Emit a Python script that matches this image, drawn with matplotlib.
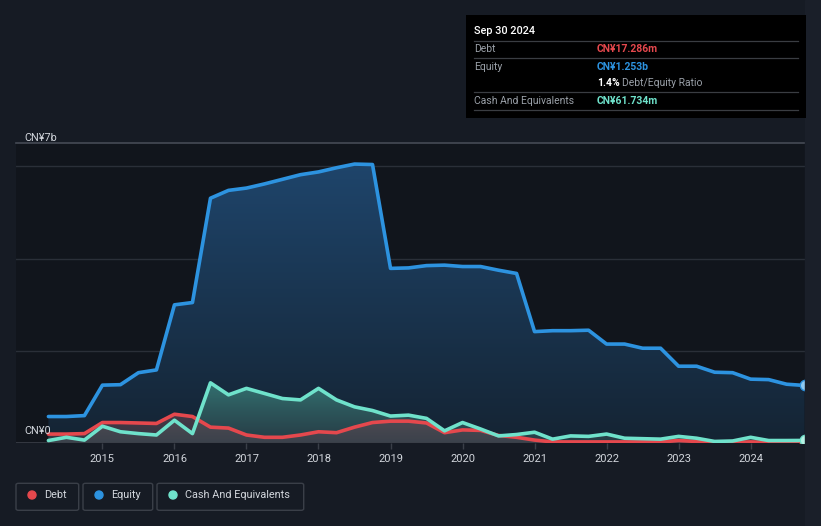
import matplotlib
matplotlib.use("Agg")
import matplotlib.pyplot as plt
import numpy as np
from matplotlib.patches import FancyBboxPatch, Rectangle
from matplotlib.lines import Line2D

plt.rcParams['font.family'] = ['Roboto', 'DejaVu Sans']

# ---- data (CN¥ billions), quarterly from Mar 2014 to Sep 2024 ----
dates = [2014.25 + 0.25 * i for i in range(43)]
equity = [0.58, 0.58, 0.60, 1.26, 1.27, 1.53, 1.59, 3.00, 3.05, 5.31,
          5.48, 5.53, 5.62, 5.72, 5.82, 5.88, 5.97, 6.05, 6.04, 3.79,
          3.80, 3.85, 3.86, 3.83, 3.83, 3.75, 3.68, 2.42, 2.44, 2.44,
          2.45, 2.15, 2.15, 2.06, 2.06, 1.67, 1.67, 1.54, 1.53, 1.39,
          1.38, 1.28, 1.253]
debt = [0.20, 0.20, 0.21, 0.45, 0.45, 0.44, 0.43, 0.63, 0.58, 0.35,
        0.33, 0.18, 0.13, 0.13, 0.18, 0.25, 0.23, 0.35, 0.45, 0.48,
        0.48, 0.44, 0.23, 0.29, 0.28, 0.17, 0.13, 0.07, 0.03, 0.03,
        0.03, 0.03, 0.03, 0.03, 0.03, 0.06, 0.04, 0.02, 0.02, 0.03,
        0.02, 0.02, 0.017]
cash = [0.06, 0.13, 0.07, 0.37, 0.25, 0.21, 0.18, 0.50, 0.21, 1.31,
        1.05, 1.19, 1.08, 0.97, 0.94, 1.19, 0.94, 0.79, 0.71, 0.59,
        0.61, 0.54, 0.27, 0.45, 0.31, 0.16, 0.19, 0.24, 0.09, 0.16,
        0.15, 0.20, 0.11, 0.10, 0.09, 0.15, 0.11, 0.04, 0.05, 0.13,
        0.06, 0.06, 0.062]
years = list(range(2015, 2025))
year_labels = [str(y) for y in years]

tip_date = "Sep 30 2024"
tip_debt = "CN¥17.286m"
tip_equity = "CN¥1.253b"
tip_ratio = "1.4%"
tip_cash = "CN¥61.734m"

C_DEBT = '#e5484d'
C_EQ = '#2d93e0'
C_CASH = '#6fe2cb'
BG = '#161b24'
TXT = '#d2d6dc'

W, H = 821, 526
fig = plt.figure(figsize=(W / 100, H / 100), dpi=100, facecolor=BG)

# right-side lighter strip
fig.patches.append(Rectangle((805 / W, 0), 1 - 805 / W, 1, transform=fig.transFigure,
                             color='#1a1f29', zorder=0))

ax_l, ax_r, ax_b, ax_t = 16, 805, 443.3, 143.3
ax = fig.add_axes([ax_l / W, 1 - ax_b / H, (ax_r - ax_l) / W, (ax_b - ax_t) / H])
ax.set_facecolor('#11151c')
ax.set_xlim(2013.80, 2024.755)
ax.set_ylim(0, 6.5)
for s in ax.spines.values():
    s.set_visible(False)

x = np.array(dates)

def grad_fill(xs, ys, base, c_top, c_bot, z):
    poly = ax.fill_between(xs, ys, base, color='none', lw=0, zorder=z)
    path = poly.get_paths()[0]
    ct = np.array(matplotlib.colors.to_rgba(c_top))
    cb = np.array(matplotlib.colors.to_rgba(c_bot))
    n = 256
    t = np.linspace(0, 1, n)[:, None]
    img = (ct * (1 - t) + cb * t)[:, None, :]
    top = max(ys)
    im = ax.imshow(img, extent=[xs[0], xs[-1], 0, top], origin='upper', aspect='auto', zorder=z)
    im.set_clip_path(path, transform=ax.transData)

grad_fill(x, equity, 0, (0.12, 0.27, 0.42, 1.0), (0.08, 0.14, 0.20, 1.0), 1)
grad_fill(x, cash, 0, (0.22, 0.50, 0.48, 0.85), (0.20, 0.30, 0.32, 0.6), 2)
grad_fill(x, debt, 0, (0.45, 0.28, 0.32, 0.55), (0.30, 0.28, 0.32, 0.55), 3)

# gridlines
for gy in [2, 4, 6]:
    ax.axhline(gy, color='#2a2f38', lw=1, zorder=0.5)
ax.axhline(6.5, color='#454b55', lw=1.2, zorder=0.5, clip_on=False)
ax.axhline(0, color='#3a3f48', lw=1.2, zorder=4)

ax.plot(x, equity, color=C_EQ, lw=2.6, zorder=6, solid_joinstyle='round', solid_capstyle='round')
ax.plot(x, debt, color=C_DEBT, lw=2.6, zorder=5, solid_joinstyle='round', solid_capstyle='round')
ax.plot(x, cash, color=C_CASH, lw=2.6, zorder=7, solid_joinstyle='round', solid_capstyle='round')

ax.plot([x[-1]], [equity[-1]], 'o', ms=7.5, mfc='#8fcaf2', mec=C_EQ, mew=1, zorder=8)
ax.plot([x[-1]], [debt[-1]], 'o', ms=7.5, mfc='#f09a9c', mec=C_DEBT, mew=1, zorder=8)
ax.plot([x[-1]], [cash[-1]], 'o', ms=7.5, mfc='#b5f2e4', mec=C_CASH, mew=1, zorder=9)

ax.set_yticks([])
ax.set_xticks(years)
ax.set_xticklabels(year_labels, color=TXT, fontsize=8)
ax.tick_params(axis='x', length=4, width=1, color='#3a3f48', pad=4)

ax.text(0.0105, 6.5, "CN¥7b", transform=ax.get_yaxis_transform(), fontsize=7.8, color=TXT,
        va='bottom', ha='left')
fig.text(24 / W, 1 - 431 / H, "CN¥0", fontsize=7.8, color=TXT, va='center', ha='left')

# tooltip box
fig.patches.append(Rectangle((466 / W, 1 - 118 / H), 340 / W, 103 / H, transform=fig.transFigure,
                             facecolor='#000000', edgecolor='none', zorder=10))
def ftext(px, py, s, **kw):
    fig.text(px / W, 1 - py / H, s, va='center', ha='left', zorder=11, **kw)
ftext(474, 31, tip_date, fontsize=7.8, color='#ffffff', fontweight='medium')
for ly in [41, 58.3, 92.3, 110]:
    fig.lines.append(Line2D([474 / W, 798 / W], [1 - ly / H] * 2, transform=fig.transFigure,
                            color='#3a3d42', lw=0.9, zorder=11))
ftext(474, 49.5, "Debt", fontsize=7.5, color='#9aa0a8')
ftext(597, 49.5, tip_debt, fontsize=7.5, color=C_DEBT, fontweight='bold')
ftext(474, 66.5, "Equity", fontsize=7.5, color='#9aa0a8')
ftext(597, 66.5, tip_equity, fontsize=7.5, color=C_EQ, fontweight='bold')
ftext(597, 83.5, tip_ratio, fontsize=7.5, color='#ffffff', fontweight='bold')
ftext(622, 83.5, "Debt/Equity Ratio", fontsize=7.5, color='#9aa0a8')
ftext(474, 100.5, "Cash And Equivalents", fontsize=7.5, color='#9aa0a8')
ftext(597, 100.5, tip_cash, fontsize=7.5, color=C_CASH, fontweight='bold')

# legend boxes
legend_items = [("Debt", C_DEBT, 16, 78.7), ("Equity", C_EQ, 83, 152.7),
                ("Cash And Equivalents", C_CASH, 157, 303.7)]
for name, col, x0, x1 in legend_items:
    fig.patches.append(FancyBboxPatch((x0 / W, 1 - 510.3 / H), (x1 - x0) / W, 27 / H,
                                      boxstyle='round,pad=0,rounding_size=0.003',
                                      transform=fig.transFigure, facecolor='none',
                                      edgecolor='#3a3f48', lw=1))
    fig.patches.append(matplotlib.patches.Ellipse(((x0 + 16) / W, 1 - 495 / H), 8 / W, 8 / H,
                                                  transform=fig.transFigure, color=col))
    ftext(x0 + 28, 495, name, fontsize=7.8, color=TXT)

fig.savefig("out.png", dpi=100, facecolor=BG)
